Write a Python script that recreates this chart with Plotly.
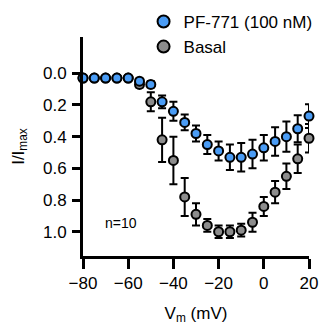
import plotly.graph_objects as go

voltage = [-80, -75, -70, -65, -60, -55, -50, -45, -40, -35, -30,
           -25, -20, -15, -10, -5, 0, 5, 10, 15, 20]
pf771 = [0.03, 0.03, 0.03, 0.03, 0.03, 0.05, 0.07, 0.18, 0.24, 0.31, 0.38,
         0.45, 0.49, 0.53, 0.53, 0.51, 0.47, 0.43, 0.40, 0.35, 0.27]
pf771_err = [0.01, 0.01, 0.01, 0.01, 0.01, 0.01, 0.02, 0.04, 0.06, 0.05, 0.05,
             0.06, 0.06, 0.08, 0.09, 0.09, 0.08, 0.09, 0.095, 0.085, 0.075]
basal = [0.03, 0.03, 0.03, 0.03, 0.03, 0.07, 0.18, 0.42, 0.55, 0.78, 0.89,
         0.96, 1.0, 1.0, 0.99, 0.94, 0.84, 0.75, 0.65, 0.54, 0.41]
basal_err = [0.01, 0.01, 0.01, 0.01, 0.01, 0.02, 0.06, 0.14, 0.15, 0.12, 0.07,
             0.04, 0.04, 0.04, 0.04, 0.06, 0.06, 0.07, 0.08, 0.09, 0.09]
x_ticks = [-80, -60, -40, -20, 0, 20]
y_ticks = [0.0, 0.2, 0.4, 0.6, 0.8, 1.0]

FONT = "Liberation Sans, Arial, sans-serif"

fig = go.Figure()
fig.add_trace(go.Scatter(
    x=voltage, y=basal, name="Basal", mode="markers", cliponaxis=False,
    marker=dict(size=9, color="#8c8c8c", line=dict(color="black", width=2)),
    error_y=dict(type="data", array=basal_err, color="black", thickness=2, width=4),
))
fig.add_trace(go.Scatter(
    x=voltage, y=pf771, name="PF-771 (100 nM)", mode="markers", cliponaxis=False,
    marker=dict(size=9, color="#4a9cf5", line=dict(color="black", width=2)),
    error_y=dict(type="data", array=pf771_err, color="black", thickness=2, width=4),
))

fig.add_annotation(x=-71, y=0.945, text="n=10", showarrow=False,
                   xanchor="left", yanchor="middle",
                   font=dict(size=14, color="black", family=FONT))

fig.update_layout(
    width=324, height=331,
    margin=dict(l=83, r=15, t=37, b=75, autoexpand=False),
    paper_bgcolor="white", plot_bgcolor="white",
    font=dict(family=FONT, size=17, color="black"),
    showlegend=True,
    legend=dict(x=0.268, y=1.151, xanchor="left", yanchor="top",
                traceorder="reversed", font=dict(size=17),
                bgcolor="rgba(0,0,0,0)", itemsizing="constant",
                tracegroupgap=0),
    xaxis=dict(range=[-80, 20], tickvals=x_ticks, showgrid=False, zeroline=False,
               showline=True, linecolor="black", linewidth=3,
               ticks="outside", ticklen=10, tickwidth=3, tickcolor="black",
               ticklabelstandoff=0,
               tickfont=dict(size=17), automargin=False,
               title=dict(text="V<sub>m</sub> (mV)", font=dict(size=17), standoff=15)),
    yaxis=dict(range=[1.153, -0.229], tickvals=y_ticks, tickformat=".1f",
               showgrid=False, zeroline=False,
               showline=True, linecolor="black", linewidth=3,
               ticks="outside", ticklen=8, tickwidth=3, tickcolor="black",
               ticklabelstandoff=2,
               tickfont=dict(size=17), automargin=False,
               title=dict(text="I/I<sub>max</sub>", font=dict(size=17), standoff=15)),
)

fig.write_html(
    "out.html",
    config={"displayModeBar": False},
    post_script="document.body.style.margin='0';document.body.style.overflow='hidden';",
)
